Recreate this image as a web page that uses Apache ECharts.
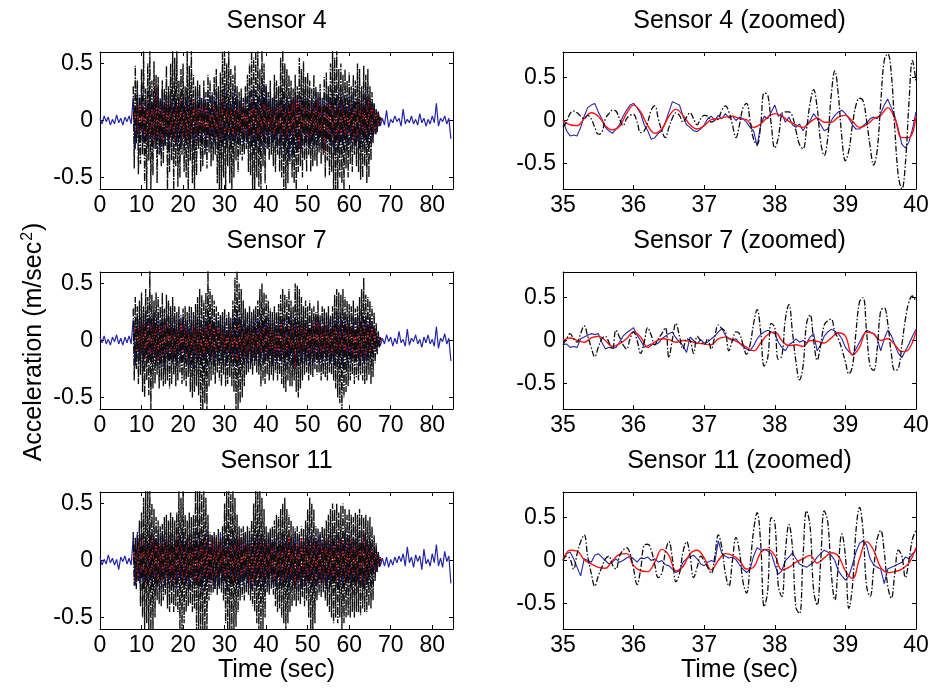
<!DOCTYPE html>
<html><head><meta charset="utf-8">
<script src="https://cdn.jsdelivr.net/npm/echarts@6/dist/echarts.min.js"></script>
<style>html,body{margin:0;padding:0;background:#fff}#c{width:934px;height:691px}</style>
</head><body><div id="c"></div>
<script>
// ---------------- DATA ----------------
const panelTitles = ['Sensor 4','Sensor 4 (zoomed)','Sensor 7','Sensor 7 (zoomed)','Sensor 11','Sensor 11 (zoomed)'];
const fullXTicks = [0,10,20,30,40,50,60,70,80];
const zoomXTicks = [35,36,37,38,39,40];
const yTicks = [-0.5,0,0.5];
const yAxisTitle = 'Acceleration (m/sec';
const yAxisTitleSup = '2';
const xAxisTitle = 'Time (sec)';

// full record sampling (seconds)
const fullBlackStart = 8.0, fullBlackStep = 0.25;
const fullBlueStart = 0.0, fullBlueStep = 0.5;
const fullRedStart = 8.0, fullRedStep = 0.5;
// zoomed record sampling
const zoomStart = 35.0, zoomBlackStep = 0.05, zoomBlueStep = 0.05, zoomRedStep = 0.1;

const s4FullBlack = [
0.30,-0.42,0.48,-0.20,0.35,-0.47,0.22,-0.38, 0.45,-0.30,0.62,-0.55,0.28,-0.62,0.50,-0.35,
0.62,-0.60,0.35,-0.48,0.52,-0.25,0.40,-0.55, 0.38,-0.30,0.20,-0.40,0.35,-0.38,0.28,-0.22,
0.48,-0.62,0.30,-0.45,0.50,-0.35,0.62,-0.62, 0.55,-0.40,0.62,-0.58,0.35,-0.50,0.45,-0.30,
0.50,-0.45,0.30,-0.50,0.62,-0.62,0.48,-0.35, 0.62,-0.55,0.40,-0.62,0.30,-0.48,0.35,-0.25,
0.32,-0.45,0.20,-0.40,0.35,-0.30,0.25,-0.42, 0.40,-0.28,0.35,-0.40,0.22,-0.35,0.38,-0.30,
0.45,-0.55,0.30,-0.62,0.42,-0.62,0.62,-0.50, 0.62,-0.62,0.50,-0.40,0.62,-0.55,0.45,-0.62,
0.40,-0.50,0.48,-0.35,0.30,-0.45,0.25,-0.30, 0.28,-0.35,0.20,-0.30,0.30,-0.25,0.40,-0.45,
0.50,-0.48,0.62,-0.62,0.55,-0.62,0.62,-0.50, 0.62,-0.58,0.45,-0.62,0.62,-0.40,0.50,-0.55,
0.30,-0.25,0.25,-0.35,0.35,-0.30,0.20,-0.40, 0.40,-0.45,0.35,-0.30,0.30,-0.45,0.55,-0.50,
0.62,-0.60,0.50,-0.62,0.45,-0.55,0.40,-0.38, 0.35,-0.50,0.28,-0.55,0.40,-0.62,0.30,-0.45,
0.55,-0.40,0.45,-0.50,0.52,-0.35,0.38,-0.45, 0.42,-0.30,0.35,-0.45,0.28,-0.40,0.40,-0.35,
0.30,-0.40,0.25,-0.28,0.32,-0.38,0.20,-0.30, 0.38,-0.50,0.42,-0.35,0.30,-0.48,0.50,-0.45,
0.62,-0.62,0.55,-0.60,0.62,-0.62,0.45,-0.50, 0.50,-0.55,0.40,-0.62,0.45,-0.42,0.35,-0.50,
0.42,-0.38,0.30,-0.45,0.40,-0.30,0.35,-0.40, 0.50,-0.45,0.45,-0.52,0.30,-0.50,0.48,-0.40,
0.40,-0.55,0.45,-0.50,0.30,-0.35,0.25,-0.20, 0.15,-0.12,0.10,-0.10,0.08,-0.05,0.03,0.00];
const s4FullBlue = [
0.02,-0.03,0.04,-0.01,0.03,-0.04,0.01,-0.03, 0.05,-0.02,0.02,-0.04,0.03,-0.01,0.04,-0.03,
0.20,-0.25,0.22,-0.18,0.25,-0.20,0.18,-0.22, 0.25,-0.20,0.22,-0.25,0.30,-0.28,0.28,-0.22,
0.22,-0.25,0.20,-0.18,0.25,-0.22,0.20,-0.25, 0.22,-0.20,0.28,-0.22,0.20,-0.25,0.22,-0.18,
0.25,-0.20,0.22,-0.28,0.18,-0.22,0.25,-0.20, 0.20,-0.25,0.22,-0.20,0.28,-0.22,0.20,-0.25,
0.25,-0.20,0.22,-0.18,0.20,-0.22,0.18,-0.20, 0.25,-0.22,0.28,-0.25,0.22,-0.28,0.30,-0.25,
0.32,-0.25,0.22,-0.20,0.25,-0.22,0.20,-0.25, 0.25,-0.30,0.22,-0.35,0.20,-0.32,0.25,-0.28,
0.22,-0.25,0.25,-0.20,0.22,-0.25,0.20,-0.22, 0.25,-0.22,0.20,-0.25,0.22,-0.20,0.25,-0.22,
0.28,-0.25,0.22,-0.28,0.25,-0.22,0.20,-0.25, 0.22,-0.20,0.25,-0.22,0.20,-0.25,0.22,-0.20,
0.25,-0.22,0.20,-0.18,0.15,-0.12,0.08,-0.05, 0.02,-0.04,0.09,-0.06,0.01,-0.02,0.04,-0.01,
0.02,-0.05,0.10,-0.03,0.01,-0.02,0.04,-0.03, 0.01,-0.04,0.06,-0.02,0.02,-0.05,0.01,-0.03,
0.04,-0.02,0.15,-0.05,0.02,-0.01,0.04,-0.03, 0.02,-0.16];
const s4FullRed = [
0.00,0.10,-0.12,0.15,-0.10,0.12,-0.15,0.18, -0.12,0.15,-0.18,0.30,-0.15,0.12,-0.20,0.15,
-0.12,0.18,-0.15,0.12,-0.18,0.15,-0.12,0.20, -0.15,0.12,-0.18,0.15,-0.12,0.18,-0.15,0.12,
-0.12,0.15,-0.10,0.12,-0.15,0.10,-0.12,0.15, -0.15,0.12,-0.18,0.20,-0.12,0.15,-0.10,0.12,
-0.12,0.10,-0.15,0.12,-0.10,0.15,-0.12,0.10, -0.15,0.18,-0.12,0.15,-0.18,0.12,-0.15,0.18,
-0.12,0.15,-0.10,0.12,-0.15,0.10,-0.12,0.18, -0.15,0.12,-0.18,0.15,-0.12,0.20,-0.15,0.22,
-0.25,0.15,-0.12,0.18,-0.15,0.12,-0.18,0.15, -0.12,0.20,-0.15,0.12,-0.28,0.15,-0.12,0.18,
-0.15,0.12,-0.18,0.15,-0.12,0.18,-0.15,0.12, -0.12,0.15,-0.18,0.12,-0.15,0.18,-0.12,0.15,
-0.15,0.22,-0.12,0.15,-0.10,0.08,-0.05,0.03, 0.00];

const s7FullBlack = [
0.28,-0.35,0.38,-0.25,0.30,-0.38,0.35,-0.30, 0.42,-0.45,0.30,-0.50,0.45,-0.35,0.38,-0.48,
0.62,-0.60,0.40,-0.42,0.35,-0.38,0.42,-0.30, 0.38,-0.42,0.30,-0.35,0.42,-0.40,0.28,-0.38,
0.40,-0.35,0.35,-0.42,0.30,-0.38,0.38,-0.30, 0.30,-0.40,0.25,-0.35,0.30,-0.28,0.22,-0.38,
0.28,-0.35,0.30,-0.40,0.25,-0.32,0.30,-0.45, 0.30,-0.50,0.25,-0.45,0.32,-0.40,0.38,-0.48,
0.45,-0.62,0.40,-0.62,0.35,-0.55,0.42,-0.62, 0.62,-0.40,0.45,-0.35,0.40,-0.30,0.35,-0.38,
0.30,-0.28,0.25,-0.35,0.22,-0.40,0.25,-0.30, 0.28,-0.40,0.22,-0.38,0.25,-0.32,0.20,-0.40,
0.35,-0.45,0.55,-0.62,0.62,-0.62,0.50,-0.55, 0.45,-0.50,0.35,-0.40,0.28,-0.30,0.25,-0.28,
0.30,-0.25,0.25,-0.30,0.28,-0.22,0.30,-0.28, 0.35,-0.30,0.45,-0.40,0.50,-0.35,0.42,-0.38,
0.40,-0.30,0.35,-0.35,0.28,-0.30,0.25,-0.35, 0.30,-0.28,0.25,-0.35,0.32,-0.30,0.40,-0.38,
0.45,-0.42,0.40,-0.45,0.38,-0.35,0.45,-0.40, 0.35,-0.40,0.30,-0.35,0.50,-0.45,0.48,-0.50,
0.45,-0.42,0.38,-0.35,0.30,-0.30,0.35,-0.28, 0.30,-0.35,0.35,-0.30,0.28,-0.32,0.30,-0.25,
0.25,-0.30,0.35,-0.28,0.22,-0.35,0.30,-0.30, 0.28,-0.32,0.25,-0.35,0.30,-0.28,0.22,-0.30,
0.30,-0.35,0.40,-0.42,0.45,-0.50,0.42,-0.55, 0.40,-0.62,0.45,-0.50,0.38,-0.45,0.35,-0.40,
0.32,-0.35,0.30,-0.30,0.35,-0.38,0.28,-0.32, 0.30,-0.35,0.38,-0.30,0.45,-0.35,0.55,-0.38,
0.40,-0.35,0.38,-0.30,0.35,-0.38,0.30,-0.32, 0.25,-0.20,0.15,-0.12,0.08,-0.06,0.03,0.00];
const s7FullBlue = [
0.03,-0.02,0.04,-0.03,0.01,-0.04,0.03,-0.01, 0.05,-0.03,0.02,-0.04,0.03,-0.02,0.04,-0.03,
0.18,-0.22,0.20,-0.18,0.22,-0.20,0.25,-0.18, 0.22,-0.20,0.25,-0.22,0.18,-0.20,0.22,-0.25,
0.20,-0.18,0.22,-0.20,0.18,-0.22,0.20,-0.18, 0.22,-0.20,0.18,-0.22,0.20,-0.25,0.22,-0.20,
0.18,-0.22,0.20,-0.25,0.22,-0.20,0.18,-0.22, 0.20,-0.18,0.22,-0.20,0.18,-0.22,0.20,-0.18,
0.22,-0.20,0.25,-0.22,0.20,-0.18,0.22,-0.20, 0.18,-0.20,0.22,-0.18,0.20,-0.22,0.18,-0.20,
0.22,-0.18,0.20,-0.22,0.18,-0.20,0.22,-0.18, 0.20,-0.22,0.18,-0.20,0.22,-0.25,0.20,-0.22,
0.18,-0.20,0.22,-0.18,0.20,-0.22,0.18,-0.20, 0.22,-0.20,0.18,-0.22,0.20,-0.18,0.22,-0.20,
0.20,-0.22,0.25,-0.20,0.22,-0.25,0.20,-0.22, 0.18,-0.20,0.22,-0.18,0.20,-0.22,0.25,-0.20,
0.22,-0.18,0.20,-0.15,0.12,-0.10,0.06,-0.05, 0.02,-0.03,0.05,-0.01,0.03,-0.05,0.02,-0.03,
0.08,-0.02,0.01,-0.05,0.10,-0.04,0.02,-0.01, 0.05,-0.03,0.01,-0.06,0.03,-0.02,0.05,-0.03,
0.01,-0.05,0.12,-0.07,0.02,-0.01,0.06,-0.03, 0.02,-0.18];
const s7FullRed = [
0.00,0.12,-0.10,0.15,-0.12,0.18,-0.15,0.12, -0.15,0.20,-0.12,0.15,-0.18,0.12,-0.15,0.18,
-0.12,0.15,-0.10,0.12,-0.15,0.10,-0.12,0.15, -0.10,0.12,-0.15,0.10,-0.12,0.15,-0.10,0.12,
-0.15,0.12,-0.18,0.15,-0.12,0.18,-0.15,0.12, -0.10,0.12,-0.08,0.10,-0.12,0.08,-0.10,0.12,
-0.15,0.12,-0.18,0.15,-0.12,0.10,-0.15,0.12, -0.10,0.12,-0.15,0.10,-0.12,0.15,-0.10,0.12,
-0.12,0.15,-0.10,0.12,-0.15,0.10,-0.12,0.15, -0.12,0.10,-0.15,0.12,-0.10,0.15,-0.25,0.12,
-0.12,0.15,-0.10,0.12,-0.15,0.10,-0.12,0.15, -0.10,0.22,-0.15,0.12,-0.10,0.15,-0.12,0.10,
-0.12,0.15,-0.10,0.12,-0.15,0.10,-0.12,0.15, -0.10,0.12,-0.15,0.10,-0.12,0.18,-0.15,0.12,
-0.12,0.15,-0.10,0.12,-0.08,0.06,-0.04,0.02, 0.00];

const s11FullBlack = [
0.25,-0.22,0.20,-0.25,0.22,-0.18,0.35,-0.40, 0.42,-0.50,0.55,-0.62,0.62,-0.55,0.62,-0.62,
0.62,-0.62,0.50,-0.60,0.45,-0.50,0.38,-0.35, 0.35,-0.38,0.30,-0.40,0.32,-0.35,0.38,-0.30,
0.40,-0.42,0.35,-0.45,0.42,-0.38,0.38,-0.45, 0.35,-0.40,0.42,-0.45,0.62,-0.62,0.55,-0.62,
0.62,-0.55,0.40,-0.45,0.35,-0.40,0.42,-0.38, 0.38,-0.45,0.40,-0.42,0.62,-0.62,0.62,-0.60,
0.62,-0.62,0.58,-0.62,0.62,-0.62,0.55,-0.62, 0.40,-0.35,0.25,-0.30,0.22,-0.28,0.25,-0.25,
0.22,-0.30,0.28,-0.25,0.20,-0.28,0.30,-0.35, 0.50,-0.55,0.62,-0.62,0.62,-0.62,0.58,-0.62,
0.62,-0.62,0.55,-0.58,0.40,-0.45,0.30,-0.35, 0.28,-0.32,0.30,-0.35,0.25,-0.28,0.30,-0.30,
0.28,-0.35,0.35,-0.40,0.50,-0.45,0.62,-0.55, 0.62,-0.62,0.62,-0.62,0.55,-0.60,0.45,-0.50,
0.30,-0.28,0.25,-0.30,0.28,-0.25,0.30,-0.30, 0.35,-0.40,0.40,-0.45,0.38,-0.42,0.45,-0.50,
0.50,-0.55,0.55,-0.62,0.45,-0.55,0.40,-0.45, 0.35,-0.40,0.30,-0.35,0.28,-0.40,0.30,-0.35,
0.25,-0.38,0.30,-0.32,0.28,-0.40,0.35,-0.35, 0.45,-0.50,0.55,-0.62,0.50,-0.62,0.45,-0.55,
0.30,-0.35,0.28,-0.30,0.25,-0.32,0.30,-0.28, 0.28,-0.35,0.35,-0.40,0.40,-0.45,0.45,-0.50,
0.50,-0.55,0.45,-0.50,0.50,-0.55,0.42,-0.50, 0.48,-0.62,0.50,-0.55,0.45,-0.50,0.40,-0.48,
0.45,-0.50,0.40,-0.45,0.38,-0.50,0.42,-0.45, 0.40,-0.45,0.45,-0.48,0.40,-0.42,0.38,-0.45,
0.40,-0.45,0.35,-0.40,0.38,-0.42,0.30,-0.35, 0.22,-0.18,0.15,-0.10,0.08,-0.06,0.03,0.00];
const s11FullBlue = [
0.03,-0.04,0.01,-0.03,0.05,-0.02,0.02,-0.04, 0.01,-0.08,0.03,-0.01,0.04,-0.03,0.02,-0.04,
0.20,-0.22,0.25,-0.20,0.22,-0.25,0.20,-0.22, 0.25,-0.22,0.20,-0.25,0.22,-0.20,0.25,-0.22,
0.22,-0.20,0.25,-0.22,0.20,-0.25,0.22,-0.20, 0.25,-0.22,0.20,-0.25,0.22,-0.20,0.25,-0.22,
0.22,-0.25,0.20,-0.22,0.25,-0.20,0.22,-0.25, 0.20,-0.22,0.25,-0.20,0.22,-0.25,0.20,-0.22,
0.25,-0.20,0.22,-0.25,0.20,-0.22,0.25,-0.20, 0.22,-0.25,0.20,-0.22,0.25,-0.20,0.22,-0.25,
0.20,-0.22,0.25,-0.20,0.22,-0.25,0.20,-0.22, 0.25,-0.20,0.22,-0.25,0.20,-0.22,0.25,-0.20,
0.22,-0.25,0.20,-0.22,0.25,-0.20,0.22,-0.25, 0.20,-0.22,0.25,-0.20,0.22,-0.25,0.20,-0.22,
0.25,-0.20,0.22,-0.25,0.20,-0.22,0.25,-0.20, 0.22,-0.25,0.20,-0.22,0.25,-0.20,0.22,-0.25,
0.20,-0.22,0.18,-0.15,0.12,-0.10,0.06,-0.05, 0.02,-0.05,0.03,-0.06,0.01,-0.04,0.03,-0.02,
0.04,-0.01,0.06,-0.05,0.12,-0.02,0.03,-0.06, 0.05,-0.01,0.04,-0.08,0.10,-0.03,0.01,-0.05,
0.06,-0.02,0.14,-0.05,0.02,-0.06,0.08,-0.01, 0.04,-0.20];
const s11FullRed = [
0.00,0.15,-0.18,0.20,-0.15,0.18,-0.20,0.15, -0.18,0.22,-0.15,0.18,-0.20,0.15,-0.18,0.20,
-0.15,0.18,-0.20,0.15,-0.18,0.22,-0.15,0.18, -0.20,0.15,-0.18,0.20,-0.15,0.18,-0.20,0.15,
-0.18,0.20,-0.15,0.18,-0.20,0.15,-0.18,0.20, -0.15,0.18,-0.12,0.15,-0.18,0.12,-0.15,0.18,
-0.20,0.15,-0.18,0.20,-0.15,0.18,-0.12,0.15, -0.18,0.15,-0.20,0.18,-0.15,0.20,-0.18,0.15,
-0.15,0.18,-0.12,0.15,-0.18,0.12,-0.15,0.18, -0.20,0.15,-0.18,0.22,-0.15,0.18,-0.25,0.15,
-0.18,0.20,-0.15,0.18,-0.20,0.15,-0.18,0.20, -0.15,0.18,-0.20,0.15,-0.18,0.20,-0.15,0.18,
-0.20,0.15,-0.18,0.20,-0.15,0.18,-0.20,0.15, -0.18,0.20,-0.15,0.18,-0.20,0.15,-0.18,0.25,
-0.20,0.15,-0.12,0.10,-0.08,0.06,-0.04,0.02, 0.00];

const s4ZoomBlack = [
-0.08,-0.02,0.08,0.11,0.09,0.05,0.02,0.06,0.02,-0.08,
-0.16,-0.14,0.02,0.08,0.12,0.11,0.02,-0.06,0.02,0.06,
0.07,-0.02,-0.14,-0.12,-0.02,0.12,0.17,0.02,-0.12,-0.20,
-0.08,0.03,0.09,0.06,-0.02,0.04,0.09,0.02,-0.05,0.02,
0.06,0.05,-0.02,0.00,0.02,0.12,0.17,0.10,-0.05,-0.20,
-0.05,0.15,0.20,0.00,-0.22,-0.28,-0.05,0.32,0.30,-0.05,
-0.32,-0.20,0.08,0.10,0.10,0.05,-0.12,-0.28,-0.33,-0.10,
0.20,0.36,0.15,-0.25,-0.41,-0.20,0.30,0.58,0.30,-0.20,
-0.47,-0.35,-0.05,0.18,0.26,0.23,0.00,-0.30,-0.52,-0.35,
0.20,0.70,0.78,0.55,-0.10,-0.65,-0.80,-0.50,0.20,0.70,
0.45];
const s4ZoomBlue = [
0.00,-0.12,-0.18,-0.17,-0.18,-0.08,0.05,0.15,0.18,0.20,
0.10,0.02,-0.08,-0.12,-0.15,-0.10,-0.05,0.05,0.12,0.18,
0.20,0.15,0.08,-0.05,-0.12,-0.22,-0.20,-0.15,-0.12,-0.02,
0.10,0.22,0.20,0.18,0.05,-0.05,-0.08,-0.12,-0.13,-0.10,
-0.05,0.02,0.05,0.00,0.06,0.02,0.08,0.03,0.05,0.00,
0.04,0.02,-0.02,-0.08,-0.12,-0.30,-0.05,0.05,0.02,0.10,
0.18,0.05,0.08,-0.02,0.04,-0.05,-0.08,-0.04,-0.12,-0.05,
0.00,0.08,0.02,-0.05,-0.12,-0.10,0.00,0.06,0.10,0.12,
0.08,0.02,-0.05,-0.10,-0.10,-0.06,-0.03,0.02,0.04,0.02,
0.08,0.18,0.25,0.15,0.05,-0.10,-0.28,-0.32,-0.25,-0.10,
0.10];
const s4ZoomRed = [
0.00,-0.05,-0.06,0.02,0.09,0.05,-0.06,-0.11,-0.07,0.08,
0.18,0.10,-0.06,-0.15,-0.10,0.05,0.13,0.06,-0.05,-0.10,
-0.06,0.01,0.02,0.04,0.05,0.02,0.01,-0.08,-0.04,0.04,
0.08,0.05,-0.01,-0.05,-0.08,-0.02,0.03,-0.02,-0.02,0.04,
0.06,-0.01,-0.08,-0.05,0.02,0.06,0.15,0.02,-0.20,-0.20,
0.05];

const s7ZoomBlack = [
-0.05,0.02,0.08,0.02,-0.02,0.08,0.17,0.05,-0.08,-0.19,
-0.08,0.02,0.05,-0.02,-0.10,0.12,0.04,-0.05,-0.10,0.02,
0.10,0.00,-0.15,-0.02,0.15,0.06,-0.05,0.02,0.08,0.15,
-0.20,0.02,0.20,0.05,-0.10,0.02,0.00,-0.15,0.05,0.00,
-0.05,0.02,-0.10,0.05,0.18,0.14,0.10,-0.12,0.00,0.10,
0.08,-0.05,-0.16,-0.05,0.20,0.36,0.10,-0.30,-0.20,0.20,
0.15,-0.22,-0.18,0.25,0.42,0.10,-0.25,-0.46,-0.30,0.20,
0.30,0.00,-0.23,-0.05,0.18,0.23,0.25,0.10,0.02,-0.10,
-0.25,-0.39,-0.30,0.10,0.45,0.50,0.10,-0.30,-0.35,-0.10,
0.35,0.38,0.20,-0.15,-0.35,-0.33,-0.05,0.25,0.45,0.52,
0.45];
const s7ZoomBlue = [
-0.05,-0.04,-0.08,-0.07,-0.08,0.02,0.04,0.06,0.08,0.07,
0.08,-0.02,-0.10,-0.08,-0.09,-0.08,-0.02,0.05,0.09,0.12,
0.15,0.06,0.00,-0.08,-0.06,-0.04,-0.05,-0.03,0.02,0.05,
0.08,0.10,0.03,-0.02,-0.06,-0.14,0.04,0.00,-0.04,0.01,
-0.03,-0.02,0.02,0.05,0.10,0.14,0.06,0.02,0.00,0.02,
-0.03,-0.07,-0.10,-0.12,-0.06,0.02,0.07,0.10,0.12,0.10,
0.08,-0.02,-0.08,-0.12,-0.05,-0.02,0.02,-0.02,0.00,-0.03,
0.04,0.08,-0.12,-0.05,0.05,0.10,0.13,0.11,0.08,0.02,
-0.08,-0.13,-0.17,-0.10,-0.02,0.06,0.12,0.10,0.08,0.02,
-0.12,0.02,0.12,0.06,-0.05,-0.15,-0.20,-0.12,-0.04,0.05,
0.13];
const s7ZoomRed = [
0.00,0.03,0.00,-0.02,0.03,0.05,0.00,-0.07,-0.04,0.02,
0.10,0.04,-0.08,-0.02,0.02,0.01,-0.02,0.00,-0.01,-0.03,
-0.04,-0.05,0.02,0.04,0.01,-0.03,-0.08,-0.12,-0.03,0.07,
0.10,0.00,-0.06,-0.05,-0.07,0.00,-0.01,-0.03,0.03,0.09,
0.05,-0.17,-0.08,0.10,0.08,0.00,0.02,-0.05,-0.13,-0.10,
0.10];

const s11ZoomBlack = [
0.00,0.05,0.02,-0.10,0.08,0.22,0.30,0.05,-0.15,-0.30,
-0.18,-0.08,0.02,0.05,-0.05,-0.10,0.05,0.12,0.15,0.08,
-0.10,-0.28,-0.10,0.18,0.19,0.12,-0.05,-0.20,-0.15,0.10,
0.22,0.02,-0.25,-0.15,0.10,0.22,0.05,-0.20,-0.08,0.05,
0.00,-0.08,-0.15,0.05,0.30,0.15,-0.15,-0.30,0.00,0.27,
0.10,-0.25,-0.38,-0.05,0.35,0.56,0.20,-0.54,-0.35,0.50,
0.45,-0.30,-0.42,0.10,0.42,0.15,-0.55,-0.62,0.05,0.58,
0.40,-0.35,-0.52,0.00,0.58,0.45,-0.15,-0.46,-0.05,0.31,
0.05,-0.56,-0.30,0.35,0.62,0.35,-0.30,-0.42,-0.10,0.25,
0.35,0.10,-0.30,-0.44,-0.15,0.12,0.05,-0.20,0.00,0.25,
0.35];
const s11ZoomBlue = [
0.03,0.08,0.10,0.02,-0.08,-0.18,0.02,0.00,-0.02,0.06,
0.08,0.04,0.00,-0.04,-0.02,0.02,-0.02,0.00,0.03,0.05,
0.02,-0.02,0.03,0.02,0.04,0.00,0.02,-0.02,0.00,-0.05,
-0.06,-0.10,-0.14,-0.12,-0.02,0.02,0.04,0.06,0.02,-0.04,
-0.06,-0.02,0.00,-0.02,0.23,0.08,0.05,0.03,0.04,0.01,
-0.05,-0.10,-0.14,-0.10,0.05,0.15,0.12,0.13,0.11,0.08,
-0.05,-0.16,-0.12,0.00,0.04,0.09,0.02,-0.04,-0.06,-0.08,
-0.05,-0.02,0.04,0.08,0.12,0.10,0.06,0.00,-0.12,-0.18,
-0.23,-0.18,-0.05,0.10,0.20,0.23,0.18,0.02,-0.05,-0.08,
-0.10,-0.27,-0.10,-0.08,-0.06,-0.04,-0.02,0.04,0.02,0.08,
0.12];
const s11ZoomRed = [
0.00,0.12,0.11,0.01,-0.04,-0.08,-0.09,0.00,0.07,0.08,
-0.06,-0.12,-0.13,-0.02,0.13,0.06,-0.12,-0.07,0.08,0.12,
0.03,-0.11,0.00,0.08,0.06,0.00,-0.10,-0.08,0.09,0.13,
0.06,-0.11,-0.08,-0.02,0.02,0.06,-0.03,0.03,0.09,0.05,
-0.12,-0.21,0.02,0.22,0.12,-0.08,-0.14,-0.13,-0.10,-0.03,
0.15];

// ---------------- CHART ----------------
const FONT = "'Liberation Sans', Arial, Helvetica, sans-serif";
const FS = 23;      // tick labels
const FS_T = 25;    // titles and axis names
const BLUE = '#2424a8', RED = '#ff1414', BLACK = '#0d0d0d';
const colLeft = [100, 563], colW = 353;
const rowTop = [52, 272, 492], rowH = 137;

function toPairs(t0, dt, vals) {
  return vals.map((v, i) => [Math.round((t0 + i * dt) * 1000) / 1000, v]);
}

const panels = [
  {full: true,  black: s4FullBlack,  blue: s4FullBlue,  red: s4FullRed},
  {full: false, black: s4ZoomBlack,  blue: s4ZoomBlue,  red: s4ZoomRed},
  {full: true,  black: s7FullBlack,  blue: s7FullBlue,  red: s7FullRed},
  {full: false, black: s7ZoomBlack,  blue: s7ZoomBlue,  red: s7ZoomRed},
  {full: true,  black: s11FullBlack, blue: s11FullBlue, red: s11FullRed},
  {full: false, black: s11ZoomBlack, blue: s11ZoomBlue, red: s11ZoomRed}
];

const grid = [], xAxis = [], yAxis = [], series = [], title = [];
panels.forEach((p, i) => {
  const col = i % 2, row = Math.floor(i / 2);
  grid.push({left: colLeft[col], top: rowTop[row], width: colW, height: rowH, containLabel: false});
  const xMin = p.full ? 0 : 35, xMax = p.full ? 85 : 40;
  const xt = p.full ? fullXTicks : zoomXTicks;
  const yLim = p.full ? 0.6 : 0.8;
  const axLine = {show: true, onZero: false, lineStyle: {color: '#000', width: 1}};
  const lbl = {color: '#000', fontSize: FS, fontFamily: FONT};
  xAxis.push({
    gridIndex: i, type: 'value', position: 'bottom', min: xMin, max: xMax,
    axisLine: axLine,
    axisTick: {show: true, inside: true, length: 4, customValues: xt, lineStyle: {color: '#000'}},
    axisLabel: Object.assign({show: true, margin: 5, customValues: xt}, lbl),
    splitLine: {show: false},
    name: row === 2 ? xAxisTitle : '', nameLocation: 'middle', nameGap: 18,
    nameTextStyle: {color: '#000', fontSize: FS_T, fontFamily: FONT}
  });
  xAxis.push({
    gridIndex: i, type: 'value', position: 'top', min: xMin, max: xMax,
    axisLine: axLine,
    axisTick: {show: true, inside: true, length: 4, customValues: xt, lineStyle: {color: '#000'}},
    axisLabel: {show: false}, splitLine: {show: false}
  });
  yAxis.push({
    gridIndex: i, type: 'value', position: 'left', min: -yLim, max: yLim,
    axisLine: {show: true, onZero: false, lineStyle: {color: '#000', width: 1}},
    axisTick: {show: true, inside: true, length: 4, customValues: yTicks, lineStyle: {color: '#000'}},
    axisLabel: Object.assign({show: true, margin: 7, customValues: yTicks}, lbl),
    splitLine: {show: false}
  });
  yAxis.push({
    gridIndex: i, type: 'value', position: 'right', min: -yLim, max: yLim,
    axisLine: {show: true, onZero: false, lineStyle: {color: '#000', width: 1}},
    axisTick: {show: true, inside: true, length: 4, customValues: yTicks, lineStyle: {color: '#000'}},
    axisLabel: {show: false}, splitLine: {show: false}
  });
  const base = {type: 'line', xAxisIndex: 2 * i, yAxisIndex: 2 * i, showSymbol: false, symbol: 'none',
                animation: false, silent: true, clip: true};
  const bT0 = p.full ? fullBlueStart : zoomStart, bDt = p.full ? fullBlueStep : zoomBlueStep;
  const rT0 = p.full ? fullRedStart : zoomStart, rDt = p.full ? fullRedStep : zoomRedStep;
  const kT0 = p.full ? fullBlackStart : zoomStart, kDt = p.full ? fullBlackStep : zoomBlackStep;
  series.push(Object.assign({}, base, {data: toPairs(bT0, bDt, p.blue),
    lineStyle: {color: BLUE, width: p.full ? 1.2 : 1.1}, z: 2}));
  series.push(Object.assign({}, base, {data: toPairs(rT0, rDt, p.red), smooth: p.full ? false : 0.4,
    lineStyle: {color: RED, width: p.full ? 1.3 : 1.4}, z: 3}));
  series.push(Object.assign({}, base, {data: toPairs(kT0, kDt, p.black), smooth: p.full ? false : 0.4,
    lineStyle: {color: BLACK, width: p.full ? 1.35 : 1.3, type: p.full ? [8, 1.5, 1.5, 1.5] : [6, 2, 1.5, 2]}, z: 4}));
  title.push({
    text: panelTitles[i], left: colLeft[col] + colW / 2, top: rowTop[row] - 43, textAlign: 'center', padding: 0,
    textStyle: {color: '#000', fontSize: FS_T, fontWeight: 'normal', fontFamily: FONT}
  });
});

const chart = echarts.init(document.getElementById('c'), null, {renderer: 'canvas'});
chart.setOption({
  backgroundColor: '#fff',
  animation: false,
  title, grid, xAxis, yAxis, series,
  graphic: [{
    type: 'text', x: 34, y: 342, rotation: Math.PI / 2,
    style: {
      text: yAxisTitle + '{s|' + yAxisTitleSup + '})',
      fill: '#000', font: FS_T + 'px ' + FONT, align: 'center', verticalAlign: 'middle',
      rich: {s: {fontSize: 16, fontFamily: FONT, fill: '#000', verticalAlign: 'top', padding: [0, 1, 12, 1]}}
    }
  }]
});
</script>
</body></html>
